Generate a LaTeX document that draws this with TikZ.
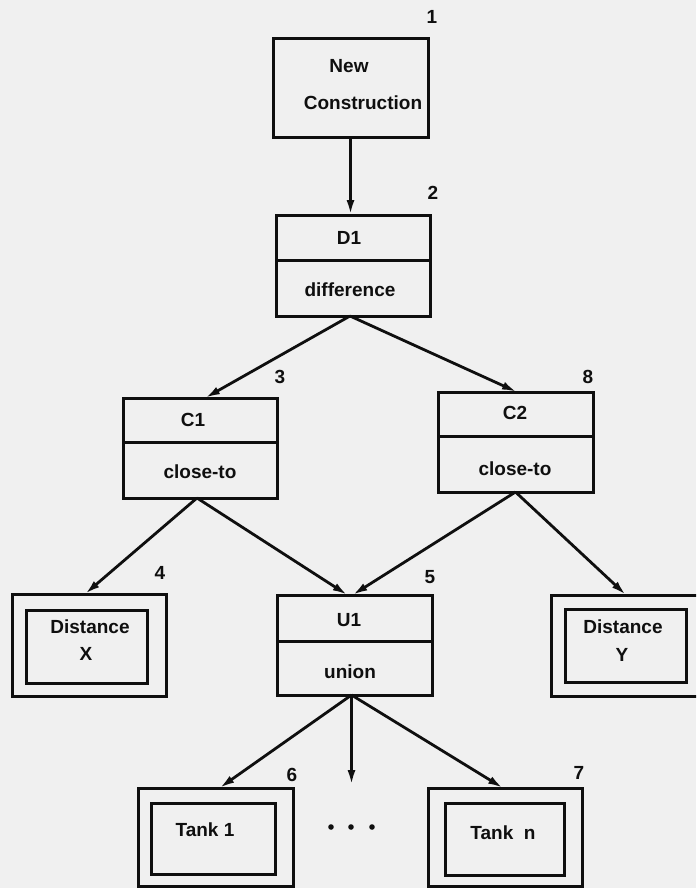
\documentclass[tikz,border=0pt]{standalone}
\usepackage{fontspec}
\setmainfont{Liberation Sans}
\usetikzlibrary{arrows.meta}
\definecolor{paper}{RGB}{240,240,240}
\definecolor{ink}{RGB}{15,15,15}
\begin{document}
\begin{tikzpicture}[x=1pt,y=-1pt,
  box/.style={draw=ink, line width=3pt, inner sep=0pt, outer sep=0pt},
  rule/.style={draw=ink, line width=3pt},
  txt/.style={inner sep=0pt, text=ink, font=\fontsize{19}{22}\selectfont\bfseries},
  num/.style={inner sep=0pt, text=ink, font=\fontsize{19}{22}\selectfont\bfseries},
  link/.style={draw=ink, line width=2.8pt, -{Latex[length=15pt,width=8pt]}}]

% page and background
\fill[paper] (0,0) rectangle (696,888);
\useasboundingbox (0,0) rectangle (696,888);
\clip (0,0) rectangle (696,888);

% 1: New Construction
\node[box, minimum width=155pt, minimum height=98pt] (n1) at (350.5,88) {};
\node[txt] (n1a) at (349,66) {New};
\node[txt] (n1b) at (363,103) {Construction};
\node[num] (k1) at (432,17) {1};

% 2: D1 difference
\node[box, minimum width=154pt, minimum height=101pt] (d1) at (353,265.5) {};
\draw[rule] ([yshift=-45pt]d1.north west) -- ([yshift=-45pt]d1.north east);
\node[txt] (d1a) at (349,238) {D1};
\node[txt] (d1b) at (350,290) {difference};
\node[num] (k2) at (433,193) {2};

% 3: C1 close-to
\node[box, minimum width=154pt, minimum height=100pt] (c1) at (200,448) {};
\draw[rule] ([yshift=-44pt]c1.north west) -- ([yshift=-44pt]c1.north east);
\node[txt] (c1a) at (193,420) {C1};
\node[txt] (c1b) at (200,472) {close-to};
\node[num] (k3) at (280,377) {3};

% 8: C2 close-to
\node[box, minimum width=155pt, minimum height=100pt] (c2) at (515.5,442) {};
\draw[rule] ([yshift=-44pt]c2.north west) -- ([yshift=-44pt]c2.north east);
\node[txt] (c2a) at (515,413) {C2};
\node[txt] (c2b) at (515,469) {close-to};
\node[num] (k8) at (588,377) {8};

% 4: Distance X
\node[box, minimum width=154pt, minimum height=102pt] (dx) at (89,645) {};
\node[box, minimum width=121pt, minimum height=73pt] (dxi) at (86.5,646.5) {};
\node[txt] (dxa) at (90,627) {Distance};
\node[txt] (dxb) at (86,654) {X};
\node[num] (k4) at (160,573) {4};

% 5: U1 union
\node[box, minimum width=155pt, minimum height=100pt] (u1) at (354.5,645) {};
\draw[rule] ([yshift=-46pt]u1.north west) -- ([yshift=-46pt]u1.north east);
\node[txt] (u1a) at (349,620) {U1};
\node[txt] (u1b) at (350,672) {union};
\node[num] (k5) at (430,577) {5};

% Distance Y
\node[box, minimum width=154pt, minimum height=101pt] (dy) at (628,645.5) {};
\node[box, minimum width=121pt, minimum height=73pt] (dyi) at (625.5,645.5) {};
\node[txt] (dya) at (623,627) {Distance};
\node[txt] (dyb) at (622,655) {Y};

% 6: Tank 1
\node[box, minimum width=155pt, minimum height=98pt] (t1) at (215.5,837) {};
\node[box, minimum width=124pt, minimum height=71pt] (t1i) at (213,838.5) {};
\node[txt] (t1a) at (205,830) {Tank 1};
\node[num] (k6) at (292,775) {6};

% 7: Tank n
\node[box, minimum width=154pt, minimum height=98pt] (tn) at (505,837) {};
\node[box, minimum width=119pt, minimum height=72pt] (tni) at (504.5,839) {};
\node[txt] (tna) at (503,833) {Tank~~n};
\node[num] (k7) at (579,773) {7};

% further tanks, elided
\coordinate (more) at (351.5,785);
\foreach \x in {331,351,372} \fill[ink] (\x,827) circle (2.8pt);

% connectors
\draw[link] (n1.south) -- (n1.south |- d1.north);
\draw[link] ([xshift=-3pt]d1.south) -- ([xshift=5pt]c1.north);
\draw[link] ([xshift=-3pt]d1.south) -- ([xshift=1.5pt]c2.north);
\draw[link] ([xshift=-3pt]c1.south) -- ([xshift=-4pt]dx.north);
\draw[link] ([xshift=-3pt]c1.south) -- ([xshift=-7pt]u1.north);
\draw[link] (c2.south) -- ([xshift=-2pt]u1.north);
\draw[link] (c2.south) -- ([xshift=-2pt]dy.north);
\draw[link] ([xshift=-3pt]u1.south) -- ([xshift=4pt]t1.north);
\draw[link] ([xshift=-3pt]u1.south) -- (more);
\draw[link] ([xshift=-3pt]u1.south) -- ([xshift=-2pt]tn.north);
\end{tikzpicture}
\end{document}
